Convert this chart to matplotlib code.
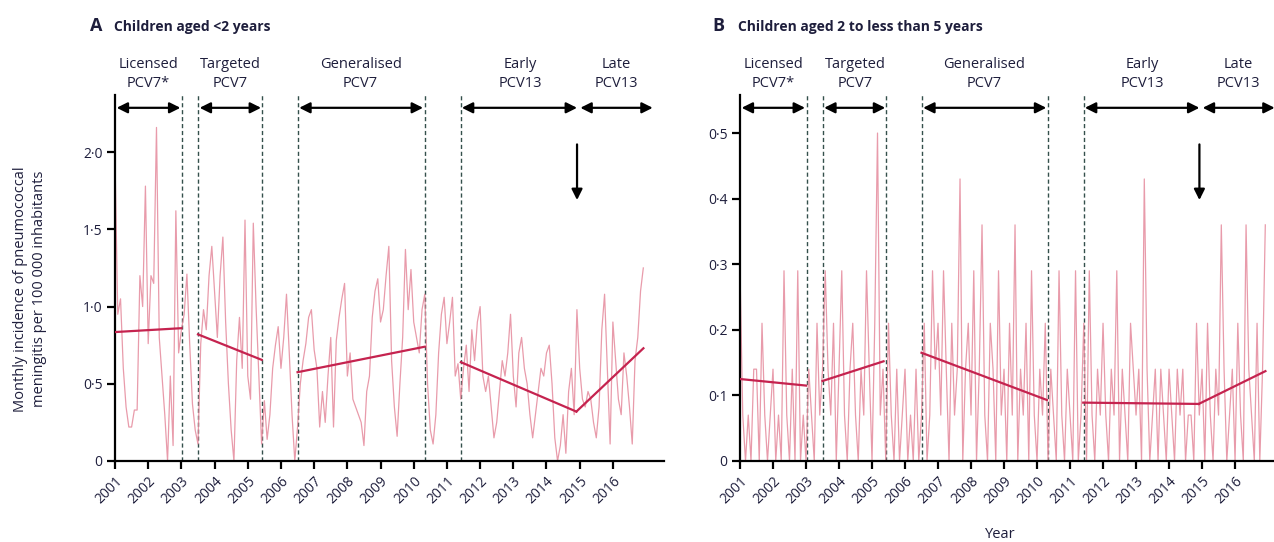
import numpy as np
import matplotlib
matplotlib.use("Agg")
import matplotlib.pyplot as plt

plt.rcParams["font.family"] = ["Open Sans", "DejaVu Sans"]

years = list(range(2001, 2017))

# monthly incidence, children <2 years (Jan 2001 .. Dec 2016)
inc_a = [
    1.95, 0.95, 1.05, 0.60, 0.35, 0.22, 0.22, 0.33, 0.33, 1.20, 1.00, 1.78,
    0.76, 1.20, 1.15, 2.16, 0.80, 0.55, 0.30, 0.00, 0.55, 0.10, 1.62, 0.70,
    0.85, 0.95, 1.21, 0.76, 0.37, 0.20, 0.11, 0.76, 0.98, 0.85, 1.20, 1.39,
    1.10, 0.80, 1.20, 1.45, 0.90, 0.50, 0.20, 0.00, 0.65, 0.93, 0.60, 1.56,
    0.55, 0.40, 1.54, 1.00, 0.55, 0.11, 0.39, 0.14, 0.30, 0.60, 0.75, 0.87,
    0.60, 0.80, 1.08, 0.70, 0.30, 0.00, 0.22, 0.50, 0.65, 0.76, 0.93, 0.98,
    0.72, 0.60, 0.22, 0.45, 0.25, 0.55, 0.80, 0.22, 0.78, 0.93, 1.05, 1.15,
    0.55, 0.70, 0.40, 0.35, 0.30, 0.25, 0.10, 0.45, 0.55, 0.93, 1.10, 1.18,
    0.90, 0.98, 1.20, 1.39, 0.65, 0.35, 0.16, 0.50, 0.80, 1.37, 0.98, 1.24,
    0.90, 0.80, 0.70, 0.98, 1.08, 0.50, 0.20, 0.11, 0.30, 0.70, 0.95, 1.06,
    0.76, 0.90, 1.06, 0.55, 0.63, 0.40, 0.60, 0.75, 0.45, 0.85, 0.65, 0.90,
    1.00, 0.55, 0.45, 0.55, 0.35, 0.15, 0.25, 0.45, 0.65, 0.55, 0.70, 0.95,
    0.55, 0.35, 0.70, 0.80, 0.60, 0.50, 0.30, 0.15, 0.30, 0.45, 0.60, 0.55,
    0.70, 0.75, 0.50, 0.15, 0.00, 0.10, 0.30, 0.05, 0.45, 0.60, 0.30, 0.98,
    0.60, 0.40, 0.35, 0.45, 0.40, 0.25, 0.15, 0.35, 0.85, 1.08, 0.60, 0.11,
    0.90, 0.65, 0.40, 0.30, 0.70, 0.55, 0.35, 0.11, 0.65, 0.80, 1.10, 1.25,
]

# monthly incidence, children 2 to <5 years
inc_b = [
    0.29, 0.07, 0.00, 0.07, 0.00, 0.14, 0.14, 0.00, 0.21, 0.07, 0.00, 0.07,
    0.14, 0.00, 0.07, 0.00, 0.29, 0.07, 0.00, 0.14, 0.00, 0.29, 0.00, 0.07,
    0.00, 0.14, 0.07, 0.00, 0.21, 0.07, 0.14, 0.29, 0.14, 0.07, 0.21, 0.00,
    0.14, 0.29, 0.07, 0.00, 0.14, 0.21, 0.07, 0.00, 0.14, 0.07, 0.29, 0.14,
    0.00, 0.21, 0.50, 0.07, 0.14, 0.00, 0.21, 0.07, 0.00, 0.14, 0.00, 0.07,
    0.14, 0.00, 0.07, 0.00, 0.14, 0.00, 0.07, 0.21, 0.00, 0.07, 0.29, 0.14,
    0.21, 0.07, 0.29, 0.14, 0.00, 0.21, 0.07, 0.14, 0.43, 0.00, 0.14, 0.21,
    0.07, 0.29, 0.00, 0.14, 0.36, 0.07, 0.00, 0.21, 0.14, 0.00, 0.29, 0.07,
    0.14, 0.00, 0.21, 0.07, 0.36, 0.00, 0.14, 0.07, 0.21, 0.00, 0.29, 0.07,
    0.00, 0.14, 0.07, 0.21, 0.00, 0.14, 0.07, 0.00, 0.29, 0.07, 0.00, 0.14,
    0.07, 0.00, 0.29, 0.00, 0.07, 0.21, 0.00, 0.29, 0.07, 0.00, 0.14, 0.07,
    0.21, 0.07, 0.00, 0.14, 0.07, 0.29, 0.00, 0.14, 0.07, 0.00, 0.21, 0.14,
    0.07, 0.14, 0.00, 0.43, 0.14, 0.00, 0.07, 0.14, 0.00, 0.14, 0.07, 0.00,
    0.14, 0.07, 0.00, 0.14, 0.07, 0.14, 0.00, 0.07, 0.07, 0.00, 0.21, 0.07,
    0.14, 0.00, 0.21, 0.07, 0.00, 0.14, 0.07, 0.36, 0.14, 0.00, 0.07, 0.14,
    0.00, 0.21, 0.07, 0.00, 0.36, 0.14, 0.07, 0.00, 0.21, 0.00, 0.14, 0.36,
]

# period boundaries (decimal years) and labels
period_labels = ["Licensed\nPCV7*", "Targeted\nPCV7", "Generalised\nPCV7",
                 "Early\nPCV13", "Late\nPCV13"]
period_start = [2001.05, 2003.55, 2006.55, 2011.45, 2015.02]
period_end = [2002.97, 2005.4, 2010.28, 2014.92, 2017.2]
label_x = [2002.0, 2004.48, 2008.4, 2013.2, 2016.1]
dashed_at = [2003.02, 2003.5, 2005.42, 2006.5, 2010.33, 2011.42]
switch_year = 2014.92

# segmented regression fits: (x0, x1, y0, y1)
trend_a = [(2001.0, 2003.0, 0.835, 0.86), (2003.5, 2005.42, 0.82, 0.655),
           (2006.5, 2010.33, 0.575, 0.74), (2011.42, 2014.9, 0.64, 0.32),
           (2014.9, 2016.92, 0.32, 0.73)]
trend_b = [(2001.0, 2003.0, 0.125, 0.115), (2003.5, 2005.35, 0.122, 0.152),
           (2006.5, 2010.3, 0.165, 0.093), (2011.4, 2014.9, 0.089, 0.087),
           (2014.9, 2016.92, 0.087, 0.137)]

t = 2001 + np.arange(len(inc_a)) / 12

line_col = "#e58a9c"
trend_col = "#c5234f"
dash_col = "#34504c"
text_col = "#1e1e3c"

fig = plt.figure(figsize=(12.74, 5.42), dpi=100)
ax_a = fig.add_axes([115 / 1274, 1 - 461 / 542, 549 / 1274, 366 / 542])
ax_b = fig.add_axes([740 / 1274, 1 - 461 / 542, 534 / 1274, 366 / 542])


def draw_panel(ax, inc, trend, ymax, yticks, yticklabels, xmax):
    ax.plot(t, inc, color=line_col, lw=0.9, alpha=0.85, zorder=2)
    for x0, x1, y0, y1 in trend:
        ax.plot([x0, x1], [y0, y1], color=trend_col, lw=1.6, zorder=3)
    for xd in dashed_at:
        ax.axvline(xd, color=dash_col, lw=1.0, ls=(0, (3, 2)), zorder=1)
    ax.set_xlim(2001, xmax)
    ax.set_ylim(0, ymax)
    ax.spines["top"].set_visible(False)
    ax.spines["right"].set_visible(False)
    ax.spines["left"].set_linewidth(1.6)
    ax.spines["bottom"].set_linewidth(1.6)
    ax.set_xticks(years)
    ax.set_xticklabels([str(y) for y in years], rotation=45, ha="right",
                       rotation_mode="anchor", fontsize=10, color=text_col)
    ax.set_yticks(yticks)
    ax.set_yticklabels(yticklabels, fontsize=10, color=text_col)
    ax.tick_params(direction="out", length=6, width=1.6, pad=3)
    tr = ax.get_xaxis_transform()
    for lab, x0, x1, xl in zip(period_labels, period_start, period_end, label_x):
        ax.annotate("", xy=(x1, 0.965), xytext=(x0, 0.965), xycoords=tr,
                    textcoords=tr, annotation_clip=False,
                    arrowprops=dict(arrowstyle="<|-|>", color="black", lw=1.6,
                                    mutation_scale=16, shrinkA=0, shrinkB=0))
        ax.text(xl, 1.057, lab, transform=tr, ha="center", va="center",
                fontsize=10.5, color=text_col, linespacing=1.4, clip_on=False)
    ax.annotate("", xy=(switch_year, 0.713), xytext=(switch_year, 0.865),
                xycoords=tr, textcoords=tr, annotation_clip=False,
                arrowprops=dict(arrowstyle="-|>", color="black", lw=1.6,
                                mutation_scale=16, shrinkA=0, shrinkB=0))


draw_panel(ax_a, inc_a, trend_a, 2.37, [0, 0.5, 1.0, 1.5, 2.0],
           ["0", "0·5", "1·0", "1·5", "2·0"], 2017.54)
draw_panel(ax_b, inc_b, trend_b, 0.558, [0, 0.1, 0.2, 0.3, 0.4, 0.5],
           ["0", "0·1", "0·2", "0·3", "0·4", "0·5"], 2017.18)

fig.text(90 / 1274, 1 - 26 / 542, "A", fontsize=13, fontweight="bold",
         color=text_col, va="center")
fig.text(114 / 1274, 1 - 27 / 542, "Children aged <2 years", fontsize=10,
         fontweight="bold", color=text_col, va="center")
fig.text(712 / 1274, 1 - 26 / 542, "B", fontsize=13, fontweight="bold",
         color=text_col, va="center")
fig.text(738 / 1274, 1 - 27 / 542, "Children aged 2 to less than 5 years",
         fontsize=10, fontweight="bold", color=text_col, va="center")

fig.text(30 / 1274, 1 - 289 / 542,
         "Monthly incidence of pneumococcal\nmeningitis per 100 000 inhabitants",
         rotation=90, ha="center", va="center", fontsize=10.5, color=text_col,
         linespacing=1.3)
fig.text(1000 / 1274, 1 - 534 / 542, "Year", ha="center", va="center",
         fontsize=10.5, color=text_col)

fig.savefig("out.png", dpi=100)
